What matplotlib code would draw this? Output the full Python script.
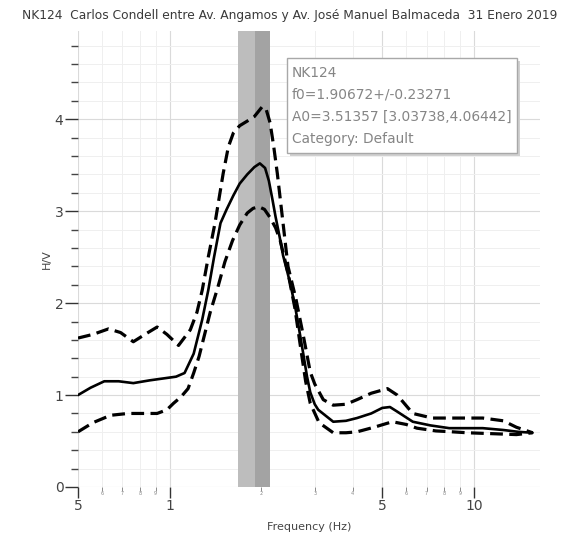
import numpy as np
import matplotlib
matplotlib.use("Agg")
import matplotlib.pyplot as plt
from matplotlib.patches import Rectangle

plt.rcParams['font.family'] = ['DejaVu Sans']

title = "NK124  Carlos Condell entre Av. Angamos y Av. José Manuel Balmaceda  31 Enero 2019"

# H/V mean curve
f_mean = [0.5, 0.55, 0.61, 0.68, 0.76, 0.86, 0.95, 1.05, 1.12, 1.2, 1.28, 1.34, 1.4, 1.47,
          1.54, 1.62, 1.7, 1.8, 1.9, 1.98, 2.06, 2.12, 2.18, 2.23, 2.3, 2.36, 2.49, 2.59,
          2.67, 2.75, 2.83, 2.9, 3.0, 3.08, 3.45, 3.8, 4.13, 4.6, 5.0, 5.3, 5.6, 6.3, 7.2,
          8.3, 9.5, 10.7, 12.5, 14.0, 15.6]
v_mean = [1.0, 1.08, 1.15, 1.15, 1.13, 1.16, 1.18, 1.2, 1.24, 1.45, 1.82, 2.14, 2.5, 2.87,
          3.02, 3.17, 3.3, 3.4, 3.48, 3.52, 3.47, 3.33, 3.12, 2.94, 2.72, 2.52, 2.22, 1.95,
          1.7, 1.45, 1.2, 1.03, 0.9, 0.84, 0.71, 0.72, 0.75, 0.8, 0.86, 0.87, 0.82, 0.71,
          0.67, 0.64, 0.64, 0.64, 0.62, 0.6, 0.59]

# upper curve (mean * std)
f_up = [0.5, 0.56, 0.63, 0.69, 0.76, 0.83, 0.91, 0.98, 1.07, 1.17, 1.23, 1.28, 1.34, 1.41,
        1.5, 1.56, 1.62, 1.7, 1.8, 1.9, 2.02, 2.08, 2.14, 2.2, 2.26, 2.36, 2.45, 2.6, 2.75,
        2.9, 3.0, 3.2, 3.45, 3.8, 4.13, 4.6, 5.2, 5.6, 6.3, 7.3, 8.5, 10.7, 12.5, 13.8, 15.6]
v_up = [1.62, 1.66, 1.72, 1.68, 1.58, 1.66, 1.74, 1.66, 1.54, 1.71, 1.9, 2.14, 2.5, 2.87,
        3.41, 3.7, 3.85, 3.93, 3.98, 4.03, 4.14, 4.1, 3.96, 3.7, 3.41, 2.87, 2.4, 2.05, 1.65,
        1.25, 1.12, 0.95, 0.89, 0.9, 0.95, 1.02, 1.07, 1.0, 0.8, 0.75, 0.75, 0.75, 0.72,
        0.65, 0.59]

# lower curve (mean / std)
f_lo = [0.5, 0.56, 0.64, 0.73, 0.82, 0.91, 0.98, 1.03, 1.09, 1.15, 1.2, 1.25, 1.29, 1.36,
        1.44, 1.52, 1.61, 1.7, 1.8, 1.88, 1.96, 2.05, 2.14, 2.23, 2.31, 2.45, 2.58, 2.7,
        2.8, 2.9, 3.1, 3.45, 3.8, 4.13, 4.7, 5.4, 6.0, 6.5, 7.5, 8.5, 9.5, 11.5, 13.8, 15.6]
v_lo = [0.6, 0.7, 0.78, 0.8, 0.8, 0.8, 0.84, 0.91, 0.98, 1.07, 1.24, 1.42, 1.6, 1.9,
        2.17, 2.45, 2.68, 2.85, 2.98, 3.03, 3.05, 3.02, 2.93, 2.82, 2.68, 2.33, 1.95, 1.5,
        1.15, 0.91, 0.7, 0.59, 0.59, 0.6, 0.65, 0.71, 0.68, 0.64, 0.61, 0.6, 0.59, 0.58,
        0.57, 0.59]

f0 = 1.90672
f0_std = 0.23271
info_lines = ["NK124", "f0=1.90672+/-0.23271", "A0=3.51357 [3.03738,4.06442]",
              "Category: Default"]

x_major = [0.5, 1, 5, 10]
x_major_labels = ["5", "1", "5", "10"]
x_minor = [0.6, 0.7, 0.8, 0.9, 2, 3, 4, 6, 7, 8, 9]
x_minor_labels = ["6", "7", "8", "9", "2", "3", "4", "6", "7", "8", "9"]
y_major = [0, 1, 2, 3, 4]

W, H = 573, 536
fig = plt.figure(figsize=(W / 100, H / 100), dpi=100)
ax = fig.add_axes([78 / W, 1 - 487 / H, (540 - 78) / W, (487 - 31) / H])

ax.set_xscale("log")
ax.set_xlim(0.5, 16.5)
ax.set_ylim(0, 4.96)

# f0 band
ax.axvspan(f0 - f0_std, f0, color="#bdbdbd", lw=0, zorder=1)
ax.axvspan(f0, f0 + f0_std, color="#a3a3a3", lw=0, zorder=1)

dash = (0, (4, 2))
ax.plot(f_up, v_up, color="black", lw=2.3, linestyle=dash, zorder=3)
ax.plot(f_lo, v_lo, color="black", lw=2.3, linestyle=dash, zorder=3)
ax.plot(f_mean, v_mean, color="black", lw=1.9, zorder=4, solid_capstyle="round")

ax.set_xticks(x_major)
ax.set_xticklabels(x_major_labels)
ax.set_xticks(x_minor, minor=True)
ax.set_xticklabels(x_minor_labels, minor=True)
ax.set_yticks(y_major)
ax.set_yticks(np.arange(0.2, 4.9, 0.2), minor=True)

ax.tick_params(axis="x", which="major", length=8, width=1, color="#333333",
               labelsize=10, labelcolor="#444444", pad=1)
ax.tick_params(axis="x", which="minor", length=3, width=0.6, color="#777777",
               labelsize=3.5, labelcolor="#888888", pad=0)
ax.tick_params(axis="y", which="major", length=9.5, width=1, color="#333333",
               labelsize=10, labelcolor="#444444", pad=1)
ax.tick_params(axis="y", which="minor", length=5, width=1, color="#444444")

ax.grid(True, which="major", color="#dadada", lw=0.8, zorder=0)
ax.grid(True, which="minor", color="#efefef", lw=0.7, zorder=0)
ax.set_axisbelow(True)
for s in ax.spines.values():
    s.set_visible(False)

ax.set_xlabel("Frequency (Hz)", fontsize=8, color="#444444", labelpad=6)
ax.set_ylabel("H/V", fontsize=8, color="#444444", labelpad=2)

fig.text(0.506, 1 - 15 / H, title, fontsize=8.8, color="#3a3a3a",
         ha="center", va="center")

# info box with shadow
bx0, by0, bx1, by1 = 287, 58, 517, 153
fig.patches.append(Rectangle((bx0 / W + 3 / W, 1 - (by1 + 3) / H), (bx1 - bx0) / W,
                             (by1 - by0) / H, transform=fig.transFigure,
                             facecolor="#d0d0d0", edgecolor="none", zorder=5))
fig.patches.append(Rectangle((bx0 / W, 1 - by1 / H), (bx1 - bx0) / W, (by1 - by0) / H,
                             transform=fig.transFigure, facecolor="white",
                             edgecolor="#a8a8a8", lw=1, zorder=6))
for i, line in enumerate(info_lines):
    fig.text(292 / W, 1 - (73 + i * 22) / H, line, fontsize=9.9, color="#858585",
             ha="left", va="center", zorder=7)

fig.savefig("out.png", dpi=100)
